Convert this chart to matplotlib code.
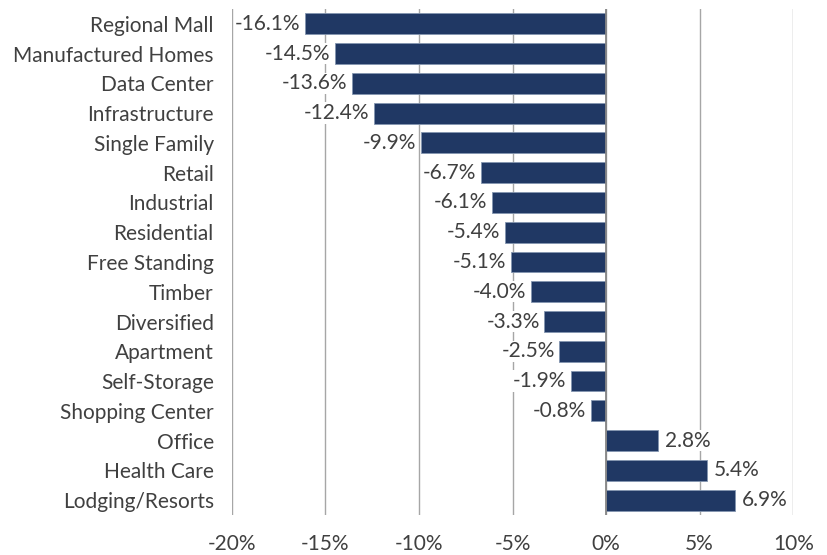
import matplotlib
matplotlib.use("Agg")
import matplotlib.pyplot as plt
from matplotlib.ticker import FuncFormatter

plt.rcParams["font.family"] = ["Lato", "DejaVu Sans"]

categories = ["Regional Mall", "Manufactured Homes", "Data Center", "Infrastructure",
              "Single Family", "Retail", "Industrial", "Residential", "Free Standing",
              "Timber", "Diversified", "Apartment", "Self-Storage", "Shopping Center",
              "Office", "Health Care", "Lodging/Resorts"]
returns = [-16.1, -14.5, -13.6, -12.4, -9.9, -6.7, -6.1, -5.4, -5.1,
           -4.0, -3.3, -2.5, -1.9, -0.8, 2.8, 5.4, 6.9]
xticks = [-20, -15, -10, -5, 0, 5, 10]

BAR = "#203864"
TXT = "#404040"
FS = 15

fig = plt.figure(figsize=(8.28, 5.55), dpi=100)
ax = fig.add_axes([0.280, 0.072, 0.678, 0.912])

y = list(range(len(categories)))
ax.barh(y, returns, height=0.7, color=BAR, edgecolor="#8496b0", linewidth=0.6, zorder=3)

for yi, v in zip(y, returns):
    if v < 0:
        ax.text(v - 0.25, yi, f"{v:.1f}%", ha="right", va="center", fontsize=FS,
                color=TXT, zorder=4,
                bbox=dict(facecolor="white", edgecolor="none", pad=0.5))
    else:
        ax.text(v + 0.35, yi, f"{v:.1f}%", ha="left", va="center", fontsize=FS,
                color=TXT, zorder=4,
                bbox=dict(facecolor="white", edgecolor="none", pad=0.5))

ax.set_xlim(-20, 10)
ax.set_ylim(len(categories) - 0.5, -0.5)
ax.set_xticks(xticks)
ax.xaxis.set_major_formatter(FuncFormatter(lambda v, p: f"{v:.0f}%"))
ax.set_yticks(y)
ax.set_yticklabels(categories)
ax.tick_params(axis="x", length=0, pad=14, labelsize=FS, labelcolor=TXT)
ax.tick_params(axis="y", length=0, pad=13, labelsize=FS, labelcolor=TXT)
ax.grid(axis="x", color="#a6a6a6", linewidth=1, zorder=0)
ax.axvline(0, color="#868686", linewidth=1.3, zorder=5)
for s in ax.spines.values():
    s.set_visible(False)

fig.savefig("out.png", dpi=100)
